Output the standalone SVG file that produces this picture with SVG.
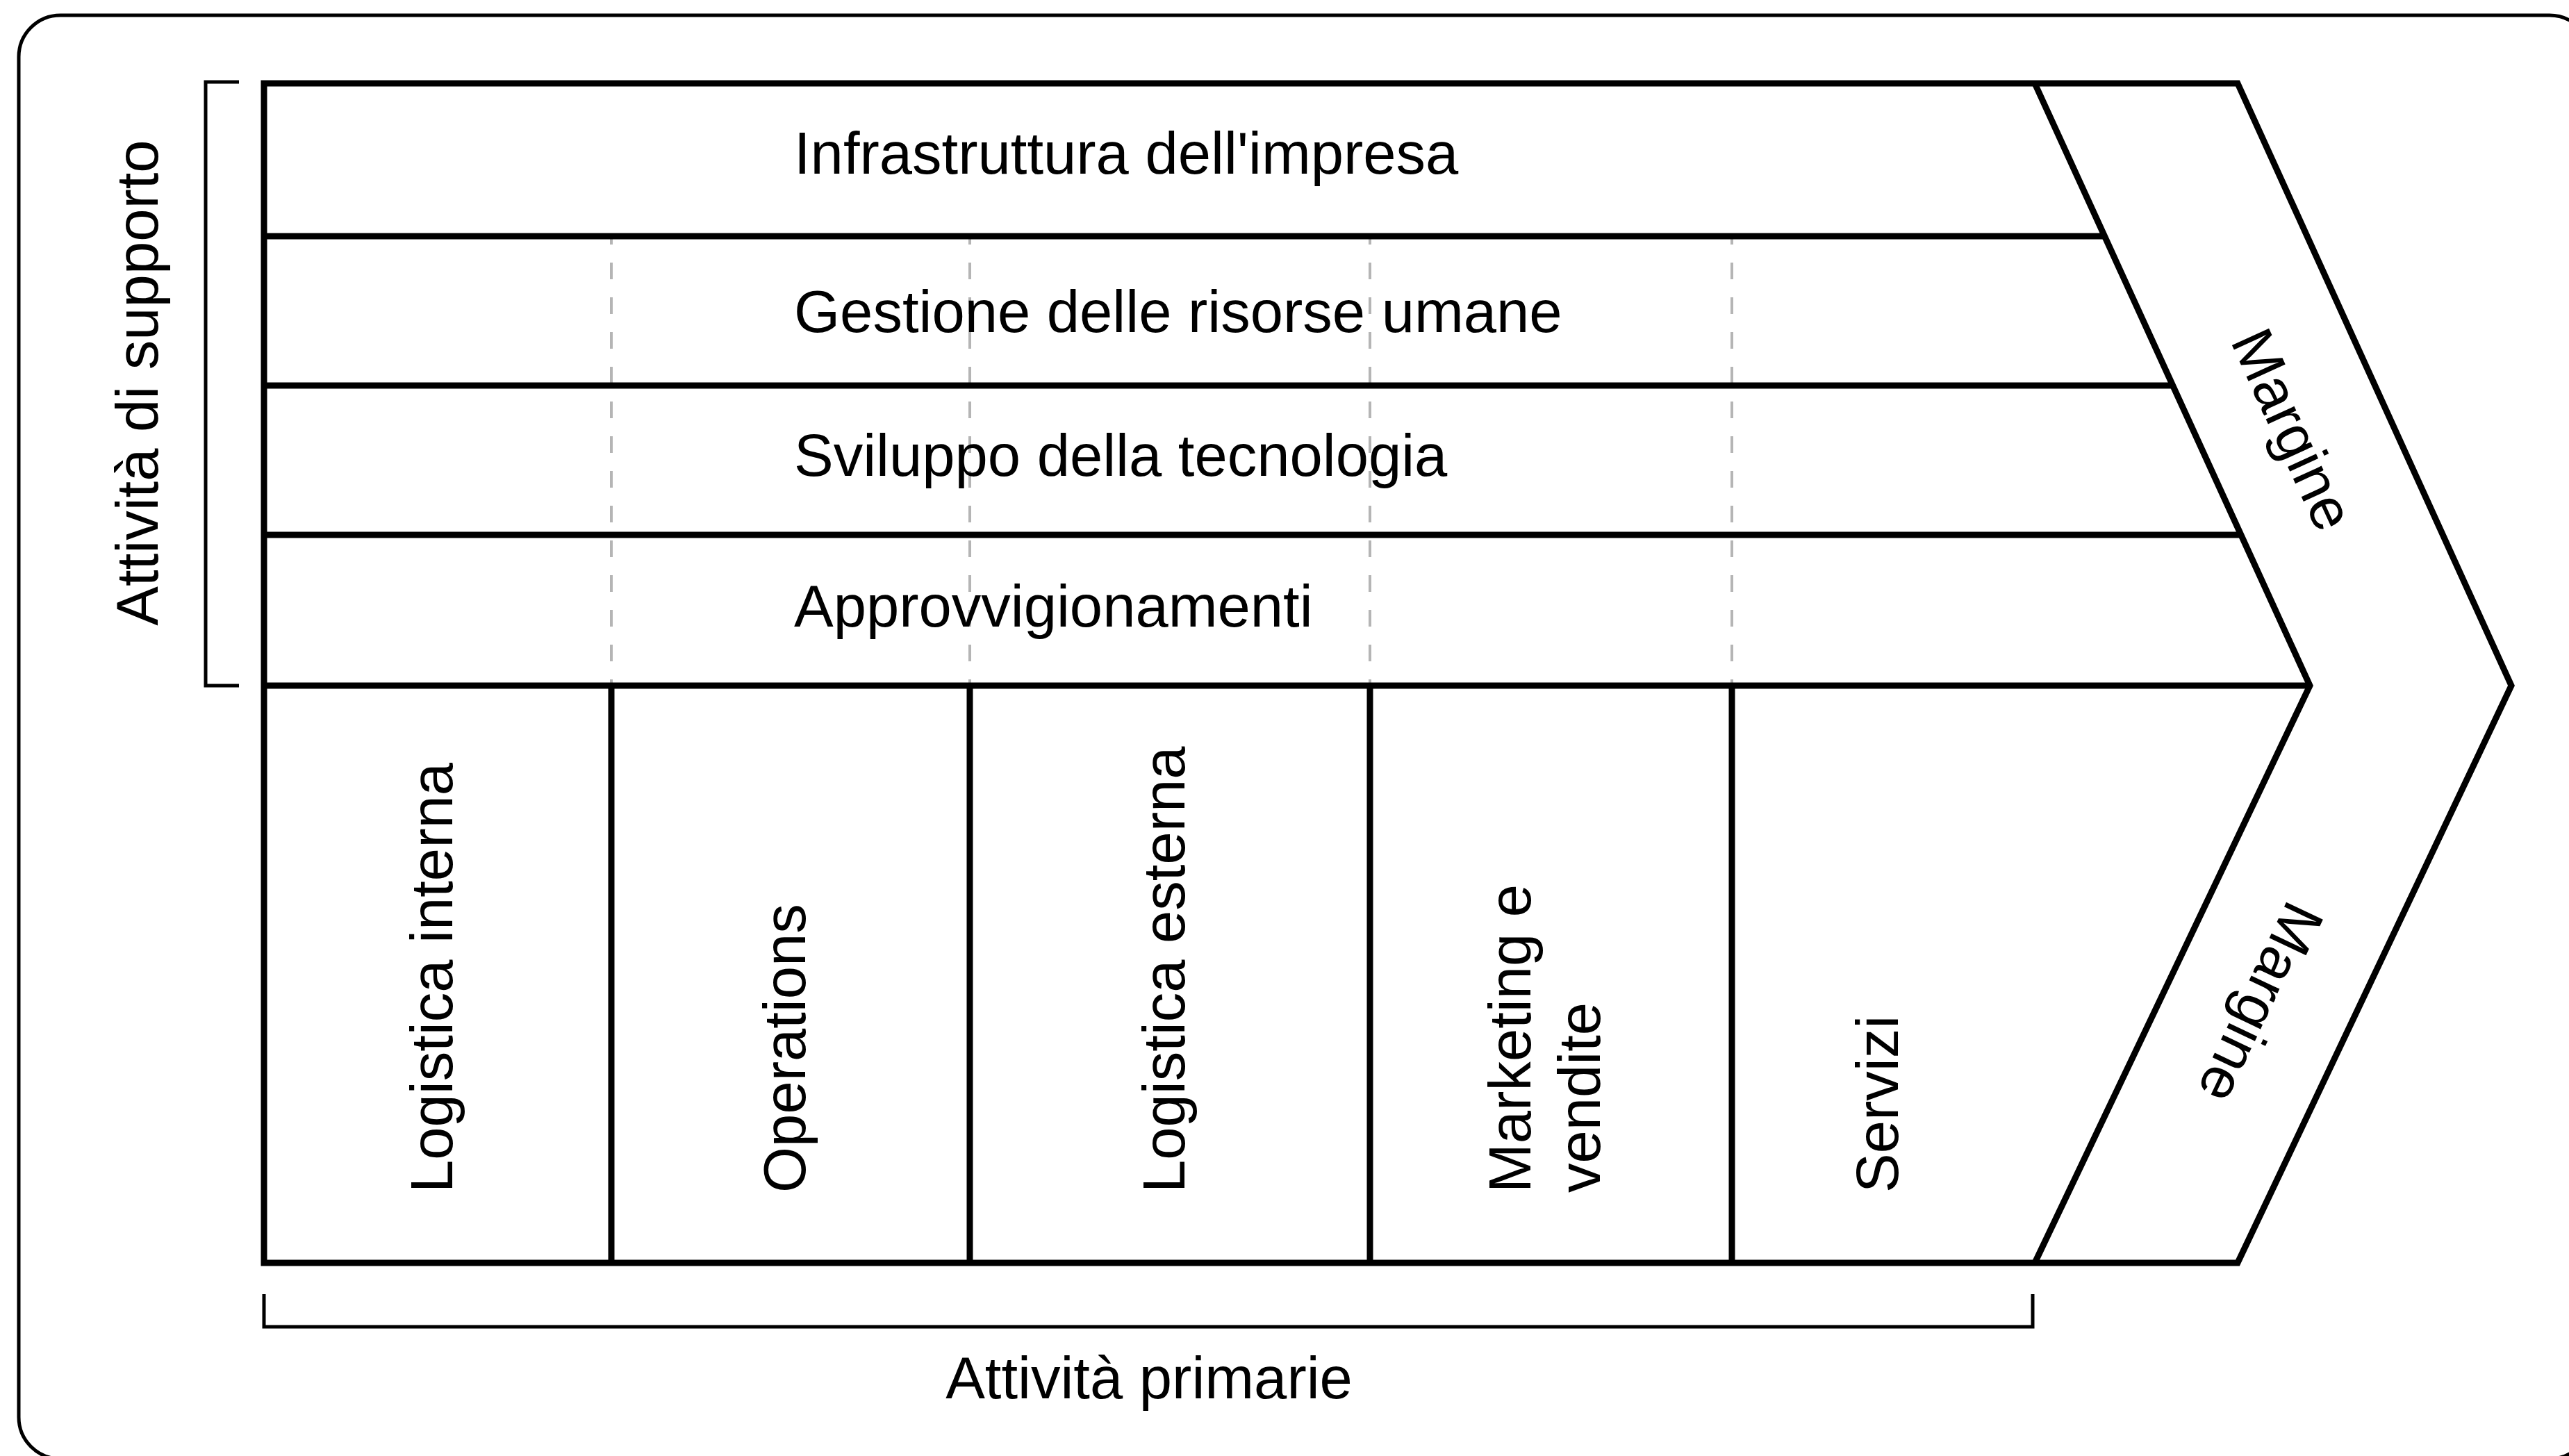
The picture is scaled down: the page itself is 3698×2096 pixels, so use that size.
<svg xmlns="http://www.w3.org/2000/svg" width="3698" height="2096" viewBox="0 0 3698 2096">
<style>
.t{font-family:"Liberation Sans",Arial,sans-serif;font-size:85px;fill:#000}
.thick{fill:none;stroke:#000;stroke-width:9;stroke-linejoin:miter}
.thin{fill:none;stroke:#000;stroke-width:5}
.dash{fill:none;stroke:#b5b5b5;stroke-width:4;stroke-dasharray:24 26;stroke-dashoffset:16}
</style>
<rect width="3698" height="2096" fill="#fff"/>
<g id="frame"><rect x="27" y="22" width="3703" height="2078" rx="60" ry="60" class="thin"/></g>
<g id="connectors">
<line class="dash" x1="880" y1="344" x2="880" y2="984"/>
<line class="dash" x1="1396" y1="344" x2="1396" y2="984"/>
<line class="dash" x1="1972" y1="344" x2="1972" y2="984"/>
<line class="dash" x1="2493" y1="344" x2="2493" y2="984"/>
<path class="thin" d="M344,118 H296 V987 H344"/>
<path class="thin" d="M380,1863 V1910 H2926 V1863"/>
</g>
<g id="chain">
<path class="thick" d="M380,120 H3221 L3615,987 L3221,1818 H380 Z"/>
<path class="thick" d="M2929,120 L3325,987 L2929,1818"/>
<line class="thick" x1="380" y1="340" x2="3030" y2="340"/>
<line class="thick" x1="380" y1="555" x2="3128" y2="555"/>
<line class="thick" x1="380" y1="770" x2="3226" y2="770"/>
<line class="thick" x1="380" y1="987" x2="3325" y2="987"/>
<line class="thick" x1="880" y1="987" x2="880" y2="1818"/>
<line class="thick" x1="1396" y1="987" x2="1396" y2="1818"/>
<line class="thick" x1="1972" y1="987" x2="1972" y2="1818"/>
<line class="thick" x1="2493" y1="987" x2="2493" y2="1818"/>
</g>
<g id="infrastruttura"><text class="t" x="1143" y="250">Infrastruttura dell'impresa</text></g>
<g id="risorse-umane"><text class="t" x="1143" y="478">Gestione delle risorse umane</text></g>
<g id="tecnologia"><text class="t" x="1143" y="685">Sviluppo della tecnologia</text></g>
<g id="approvvigionamenti"><text class="t" x="1143" y="902">Approvvigionamenti</text></g>
<g id="logistica-interna"><text class="t" transform="translate(651,1717) rotate(-90)">Logistica interna</text></g>
<g id="operations"><text class="t" transform="translate(1159,1717) rotate(-90)">Operations</text></g>
<g id="logistica-esterna"><text class="t" transform="translate(1705,1717) rotate(-90)">Logistica esterna</text></g>
<g id="marketing"><text class="t" transform="translate(2203,1717) rotate(-90)">Marketing e</text><text class="t" transform="translate(2303,1717) rotate(-90)">vendite</text></g>
<g id="servizi"><text class="t" transform="translate(2732,1717) rotate(-90)">Servizi</text></g>
<g id="margine-sup"><text class="t" text-anchor="middle" dy="0.35em" transform="translate(3301,618) rotate(65.4)">Margine</text></g>
<g id="margine-inf"><text class="t" text-anchor="middle" dy="0.35em" transform="translate(3255,1444) rotate(115.4)">Margine</text></g>
<g id="supporto"><text class="t" text-anchor="middle" transform="translate(227,551) rotate(-90)">Attività di supporto</text></g>
<g id="primarie"><text class="t" text-anchor="middle" x="1654" y="2013">Attività primarie</text></g>
</svg>
